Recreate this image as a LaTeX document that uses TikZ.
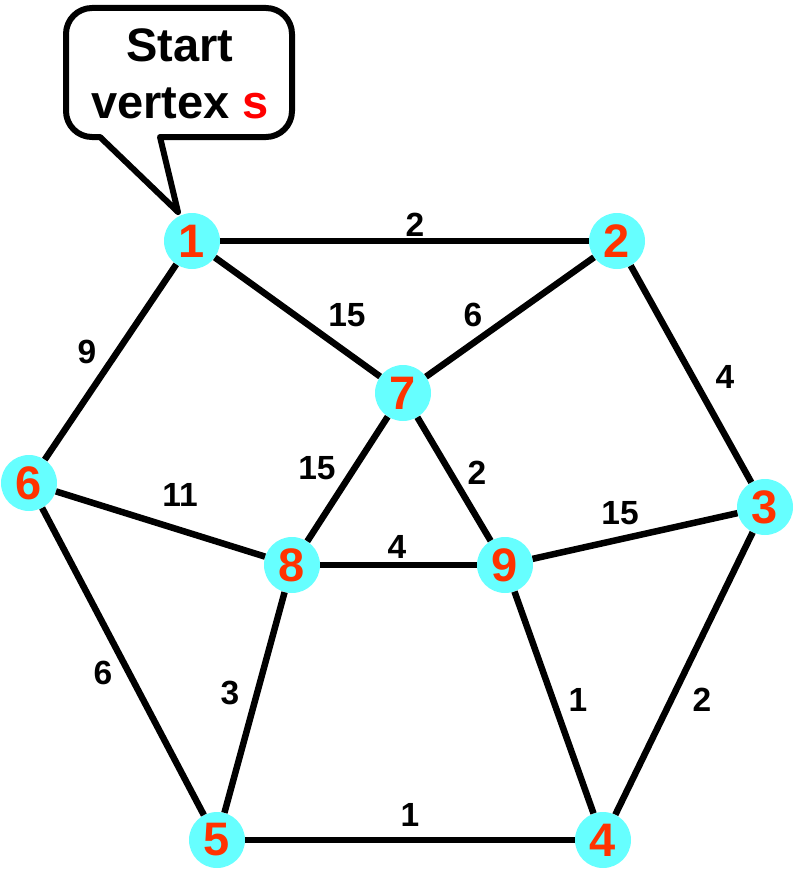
\documentclass[tikz,border=0pt]{standalone}
\usepackage{fontspec}
\setmainfont{Liberation Sans}
\usepackage{tikz}
\usetikzlibrary{positioning}
\definecolor{vfill}{HTML}{66FFFF}
\definecolor{vnum}{HTML}{FF3300}

\begin{document}
\begin{tikzpicture}[
        x=1pt, y=-1pt,
        vertex/.style={circle, fill=vfill, minimum size=56pt, inner sep=0pt,
            font=\fontsize{47}{47}\selectfont\bfseries, text=vnum},
        edge/.style={line width=6.5pt},
        lbl/.style={inner sep=0pt, font=\fontsize{33.5}{33.5}\selectfont\bfseries},
        callout/.style={line width=6pt, line join=round},
    ]
    \useasboundingbox (0,0) rectangle (798,872);

    % callout
    \draw[callout] (160,137) [rounded corners=26pt] -- (292,137) -- (292,8) -- (66,8) -- (66,137)
        [sharp corners] -- (100,137) -- (178,212) -- cycle;
    \node[font=\fontsize{47}{57}\selectfont\bfseries, align=center] (note) at (180,74)
        {Start\\vertex \textcolor{red}{s}};

    % vertices
    \node[vertex] (v1) at (192,241) {1};
    \node[vertex] (v2) at (617,241) {2};
    \node[vertex] (v3) at (765,507) {3};
    \node[vertex] (v4) at (603,840) {4};
    \node[vertex] (v5) at (217,840) {5};
    \node[vertex] (v6) at (29,483)  {6};
    \node[vertex] (v7) at (403,393) {7};
    \node[vertex] (v8) at (292,565) {8};
    \node[vertex] (v9) at (505,565) {9};

    % edges
    \draw[edge] (v1) -- node[lbl, shift={(10.5,-16)}] {2} (v2);
    \draw[edge] (v1) -- node[lbl, shift={(49.5,-2)}] {15} (v7);
    \draw[edge] (v2) -- node[lbl, shift={(-37,-2)}] {6} (v7);
    \draw[edge] (v1) -- node[lbl, shift={(-23.5,-10)}] {9} (v6);
    \draw[edge] (v2) -- node[lbl, shift={(34,3)}] {4} (v3);
    \draw[edge] (v6) -- node[lbl, shift={(19.5,-29)}] {11} (v8);
    \draw[edge] (v7) -- node[lbl, shift={(-30.5,-11)}] {15} (v8);
    \draw[edge] (v7) -- node[lbl, shift={(23,-6)}] {2} (v9);
    \draw[edge] (v8) -- node[lbl, shift={(-1.5,-18)}] {4} (v9);
    \draw[edge] (v9) -- node[lbl, shift={(-15,-23)}] {15} (v3);
    \draw[edge] (v6) -- node[lbl, shift={(-20,11.5)}] {6} (v5);
    \draw[edge] (v8) -- node[lbl, shift={(-24.5,-9.5)}] {3} (v5);
    \draw[edge] (v9) -- node[lbl, shift={(24,-2.5)}] {1} (v4);
    \draw[edge] (v3) -- node[lbl, shift={(18,26.5)}] {2} (v4);
    \draw[edge] (v5) -- node[lbl, shift={(0,-25)}] {1} (v4);
\end{tikzpicture}
\end{document}
